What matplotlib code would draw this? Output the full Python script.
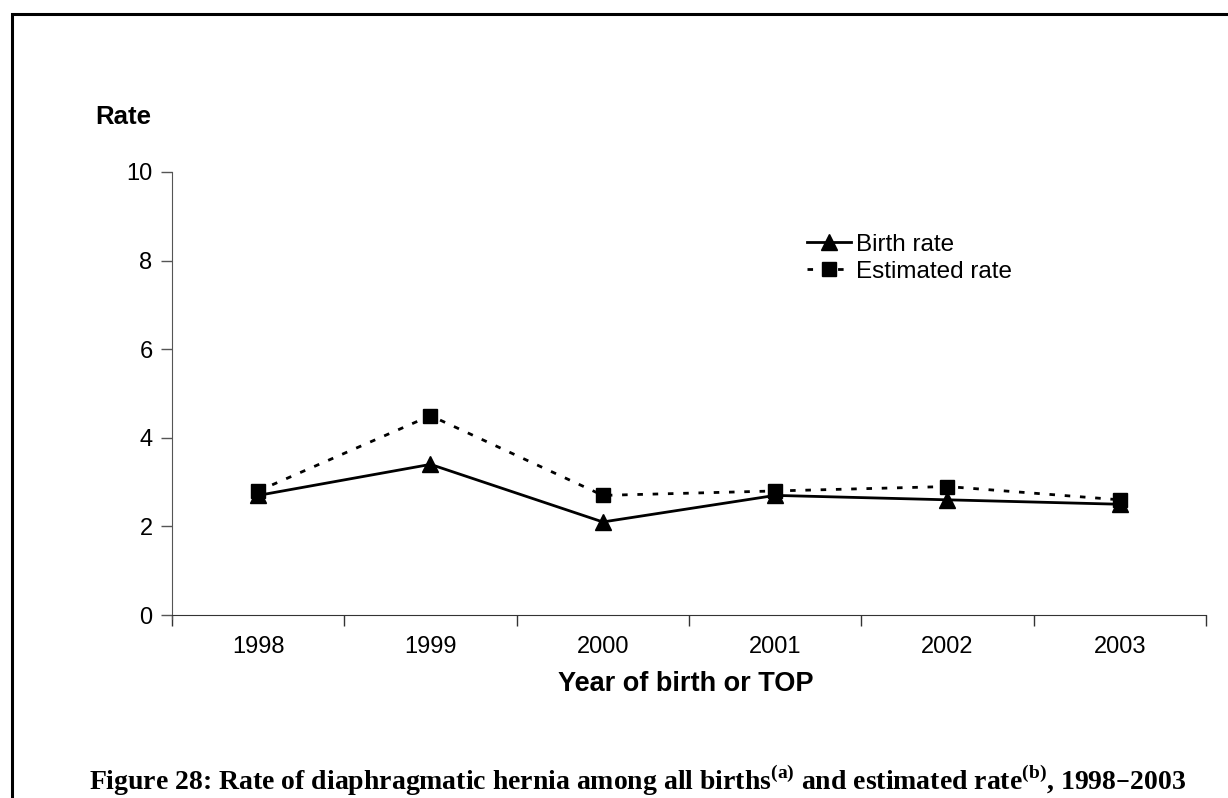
import matplotlib
matplotlib.use('Agg')
import matplotlib.pyplot as plt
from matplotlib.patches import Rectangle

years = ['1998', '1999', '2000', '2001', '2002', '2003']
birth_rate = [2.7, 3.4, 2.1, 2.7, 2.6, 2.5]
estimated_rate = [2.8, 4.5, 2.7, 2.8, 2.9, 2.6]
y_ticks = [0, 2, 4, 6, 8, 10]

W, H = 1228, 798
fig = plt.figure(figsize=(W / 100, H / 100), dpi=100)
plt.rcParams['font.family'] = ['Liberation Sans', 'DejaVu Sans']

# outer frame (right and bottom edges fall outside the picture)
fig.patches.append(Rectangle((12 / W, -0.1), 1.2, (H - 14) / H + 0.1, transform=fig.transFigure,
                             fill=False, edgecolor='black', linewidth=2.2))

ax = fig.add_axes([172 / W, 1 - 615 / H, (1206 - 172) / W, (615 - 172) / H])
x = list(range(len(years)))
ax.plot(x, birth_rate, color='black', linewidth=2, marker='^', markersize=11, label='Birth rate')
ax.plot(x, estimated_rate, color='black', linewidth=2, linestyle=(0, (2, 3.5)), marker='s',
        markersize=10, label='Estimated rate')

ax.set_xlim(-0.5, len(years) - 0.5)
ax.set_ylim(0, 10)
ax.set_yticks(y_ticks)
ax.set_xticks([i + 0.5 for i in range(-1, len(years))], minor=False)
ax.set_xticklabels([])
ax.set_xticks(x, minor=True)
ax.set_xticklabels(years, minor=True)
ax.tick_params(axis='x', which='minor', length=0, pad=15, labelsize=17)
ax.tick_params(axis='x', which='major', length=8, width=1, color='#333333', direction='out')
ax.tick_params(axis='y', length=8, width=1, color='#555555', labelsize=17, pad=6)
for side in ['top', 'right']:
    ax.spines[side].set_visible(False)
ax.spines['left'].set_color('#555555')
ax.spines['bottom'].set_color('#333333')
ax.spines['left'].set_bounds(-0.1, 10)

ax.legend(loc='upper left', bbox_to_anchor=(0.593, 0.91), frameon=False, fontsize=17.5,
          handlelength=1.8, handletextpad=0.2, labelspacing=0.2)

fig.text(95 / W, 1 - 117 / H, 'Rate', fontsize=18.5, fontweight='bold', va='center', ha='left')
fig.text(686 / W, 1 - 684 / H, 'Year of birth or TOP', fontsize=19.5, fontweight='bold',
         va='center', ha='center')
fig.text(638 / W, 1 - 780 / H,
         'Figure 28: Rate of diaphragmatic hernia among all births$^{\\mathregular{(a)}}$ and estimated rate$^{\\mathregular{(b)}}$, 1998\u20132003',
         fontsize=20, fontweight='bold', family=['Liberation Serif', 'DejaVu Serif'],
         va='center', ha='center')

fig.savefig('out.png', dpi=100)
